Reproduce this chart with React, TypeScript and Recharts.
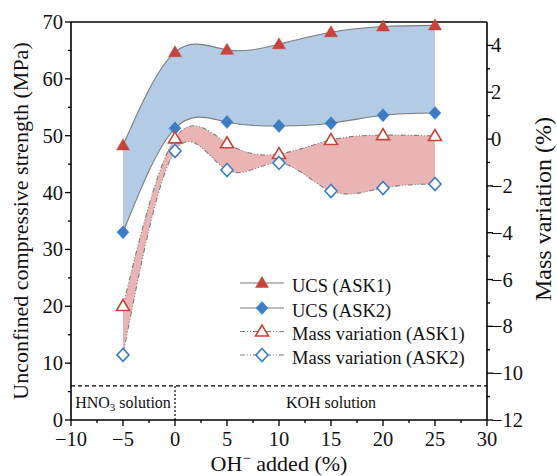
import {
  Area,
  ComposedChart,
  Label,
  Legend,
  Line,
  ReferenceArea,
  ReferenceLine,
  XAxis,
  YAxis,
} from 'recharts';

const FONT = '"Liberation Serif", "Times New Roman", serif';

// OH- added (%)
const ohAdded = [-5, 0, 5, 10, 15, 20, 25];
// unconfined compressive strength (MPa)
const ucsAsk1 = [48.3, 64.7, 65.1, 66.1, 68.2, 69.2, 69.4];
const ucsAsk2 = [33.0, 51.3, 52.4, 51.7, 52.2, 53.6, 54.0];
// mass variation (%)
const massAsk1 = [-7.13, 0.03, -0.18, -0.64, -0.04, 0.17, 0.13];
const massAsk2 = [-9.22, -0.51, -1.32, -1.02, -2.22, -2.09, -1.92];

const xTicks = [-10, -7.5, -5, -2.5, 0, 2.5, 5, 7.5, 10, 12.5, 15, 17.5, 20, 22.5, 25, 27.5, 30];
const ucsTicks = [0, 5, 10, 15, 20, 25, 30, 35, 40, 45, 50, 55, 60, 65, 70];
const massTicks = [-12, -11, -10, -9, -8, -7, -6, -5, -4, -3, -2, -1, 0, 1, 2, 3, 4];

const legendItems = [
  { name: 'UCS (ASK1)', marker: 'triangle', filled: true, color: '#c8433b', dashed: false },
  { name: 'UCS (ASK2)', marker: 'diamond', filled: true, color: '#3b7cc2', dashed: false },
  { name: 'Mass variation (ASK1)', marker: 'triangle', filled: false, color: '#c8433b', dashed: true },
  { name: 'Mass variation (ASK2)', marker: 'diamond', filled: false, color: '#3b7cc2', dashed: true },
];

const chartData = ohAdded.map((x, i) => ({
  x,
  ucs1: ucsAsk1[i],
  ucs2: ucsAsk2[i],
  ucsBand: [ucsAsk2[i], ucsAsk1[i]],
  mass1: massAsk1[i],
  mass2: massAsk2[i],
  massBand: [massAsk2[i], massAsk1[i]],
}));

const RED = '#c8433b';
const BLUE = '#3b7cc2';
const LINE_GRAY = '#7d7d7d';
const DASH_DOT = '5 2 1 2 1 2';

const fmt = (v: number) => (v < 0 ? `\u2212${Math.abs(v)}` : `${v}`);

function Marker({ cx, cy, kind, filled, color }: any) {
  if (cx == null || cy == null) return null;
  if (kind === 'triangle') {
    const pts = `${cx},${cy - 6.5} ${cx - 6.5},${cy + 4.5} ${cx + 6.5},${cy + 4.5}`;
    return (
      <polygon
        points={pts}
        fill={filled ? color : '#fff'}
        stroke={color}
        strokeWidth={filled ? 0.5 : 1.6}
      />
    );
  }
  const pts = `${cx},${cy - 6.5} ${cx + 6},${cy} ${cx},${cy + 6.5} ${cx - 6},${cy}`;
  return (
    <polygon
      points={pts}
      fill={filled ? color : '#fff'}
      stroke={color}
      strokeWidth={filled ? 0.5 : 1.6}
    />
  );
}

function XTick({ x, y, payload }: any) {
  const v = payload.value;
  const major = v % 5 === 0;
  return (
    <g>
      <line x1={x} x2={x} y1={y} y2={y + (major ? 6 : 3)} stroke="#000" strokeWidth={1.3} />
      {major && (
        <text x={x} y={y + 26} textAnchor="middle" fontSize={20.5} fontFamily={FONT} fill="#111">
          {fmt(v)}
        </text>
      )}
    </g>
  );
}

function LeftTick({ x, y, payload }: any) {
  const v = payload.value;
  const major = v % 10 === 0;
  return (
    <g>
      <line x1={x} x2={x - (major ? 6 : 3)} y1={y} y2={y} stroke="#000" strokeWidth={1.3} />
      {major && (
        <text x={x - 8} y={y + 7} textAnchor="end" fontSize={20.5} fontFamily={FONT} fill="#111">
          {fmt(v)}
        </text>
      )}
    </g>
  );
}

function RightTick({ x, y, payload }: any) {
  const v = payload.value;
  const major = v % 2 === 0;
  return (
    <g>
      <line x1={x} x2={x + (major ? 6 : 3)} y1={y} y2={y} stroke="#000" strokeWidth={1.3} />
      {major && (
        <text x={x + 4} y={y + 7} textAnchor="start" fontSize={20.5} fontFamily={FONT} fill="#111">
          {fmt(v)}
        </text>
      )}
    </g>
  );
}

function XTitle({ viewBox }: any) {
  const cx = viewBox.x + viewBox.width / 2;
  return (
    <text x={cx} y={471} textAnchor="middle" fontSize={22} fontFamily={FONT} fill="#111">
      OH
      <tspan fontSize={15} dy={-8}>{'\u2212'}</tspan>
      <tspan dy={8}> added (%)</tspan>
    </text>
  );
}

function LeftTitle() {
  return (
    <text
      x={28}
      y={221}
      transform="rotate(-90, 28, 221)"
      textAnchor="middle"
      fontSize={22}
      fontFamily={FONT}
      fill="#111"
    >
      Unconfined compressive strength (MPa)
    </text>
  );
}

function RightTitle() {
  return (
    <text
      x={551}
      y={209}
      transform="rotate(-90, 551, 209)"
      textAnchor="middle"
      fontSize={24}
      fontFamily={FONT}
      fill="#111"
    >
      Mass variation (%)
    </text>
  );
}

function NoteLabel({ viewBox, kind }: any) {
  const cx = viewBox.x + viewBox.width / 2;
  const cy = viewBox.y + viewBox.height / 2 + 5;
  if (kind === 'hno3') {
    return (
      <text x={cx} y={cy} textAnchor="middle" fontSize={16} fontFamily={FONT} fill="#111">
        HNO
        <tspan fontSize={11} dy={3}>3</tspan>
        <tspan dy={-3}> solution</tspan>
      </text>
    );
  }
  return (
    <text x={cx} y={cy} textAnchor="middle" fontSize={16} fontFamily={FONT} fill="#111">
      KOH solution
    </text>
  );
}

function LegendBox() {
  const rows = [13, 38, 61.5, 85];
  return (
    <svg width={260} height={100} style={{ display: 'block', overflow: 'visible' }}>
      {legendItems.map((item, i) => (
        <g key={item.name}>
          <line
            x1={5}
            x2={49}
            y1={rows[i]}
            y2={rows[i]}
            stroke={LINE_GRAY}
            strokeWidth={1.2}
            strokeDasharray={item.dashed ? DASH_DOT : undefined}
          />
          <Marker cx={27} cy={rows[i]} kind={item.marker} filled={item.filled} color={item.color} />
          <text x={57} y={rows[i] + 8.5} fontSize={18.5} fontFamily={FONT} fill="#111">
            {item.name}
          </text>
        </g>
      ))}
    </svg>
  );
}

export default function App() {
  return (
    <div style={{ position: 'absolute', left: 0, top: 0, background: '#fff' }}>
      <ComposedChart
        width={557}
        height={476}
        data={chartData}
        margin={{ top: 22, right: 0, bottom: 0, left: 0 }}
      >
        <XAxis
          dataKey="x"
          type="number"
          domain={[-10, 30]}
          ticks={xTicks}
          interval={0}
          height={56}
          tickSize={0}
          tickMargin={0}
          tickLine={false}
          tick={<XTick />}
          axisLine={{ stroke: '#000', strokeWidth: 1.6 }}
        >
          <Label content={<XTitle />} />
        </XAxis>
        <YAxis
          yAxisId="ucs"
          orientation="left"
          type="number"
          domain={[0, 70]}
          ticks={ucsTicks}
          interval={0}
          width={71}
          tickSize={0}
          tickMargin={0}
          tickLine={false}
          tick={<LeftTick />}
          axisLine={{ stroke: '#000', strokeWidth: 1.6 }}
        >
          <Label content={<LeftTitle />} />
        </YAxis>
        <YAxis
          yAxisId="mass"
          orientation="right"
          type="number"
          domain={[-12, 5]}
          ticks={massTicks}
          interval={0}
          width={70}
          tickSize={0}
          tickMargin={0}
          tickLine={false}
          tick={<RightTick />}
          axisLine={{ stroke: '#000', strokeWidth: 1.6 }}
        >
          <Label content={<RightTitle />} />
        </YAxis>

        <Area
          yAxisId="ucs"
          dataKey="ucsBand"
          type="natural"
          fill="#b3cbe4"
          fillOpacity={1}
          stroke="none"
          isAnimationActive={false}
          activeDot={false}
        />
        <Area
          yAxisId="mass"
          dataKey="massBand"
          type="natural"
          fill="#ebb4b4"
          fillOpacity={1}
          stroke="none"
          isAnimationActive={false}
          activeDot={false}
        />

        <ReferenceLine yAxisId="ucs" y={70} stroke="#000" strokeWidth={1.6} />
        <ReferenceLine yAxisId="ucs" y={6} stroke="#000" strokeWidth={1.2} strokeDasharray="4 3" />
        <ReferenceLine
          yAxisId="ucs"
          segment={[{ x: 0, y: 0 }, { x: 0, y: 6 }]}
          stroke="#000"
          strokeWidth={1.2}
          strokeDasharray="2 2"
        />
        <ReferenceArea
          yAxisId="ucs"
          x1={-10}
          x2={0}
          y1={0}
          y2={6}
          fill="none"
          stroke="none"
          label={<NoteLabel kind="hno3" />}
        />
        <ReferenceArea
          yAxisId="ucs"
          x1={0}
          x2={30}
          y1={0}
          y2={6}
          fill="none"
          stroke="none"
          label={<NoteLabel kind="koh" />}
        />

        <Line
          yAxisId="ucs"
          dataKey="ucs1"
          type="natural"
          stroke={LINE_GRAY}
          strokeWidth={1.1}
          isAnimationActive={false}
          activeDot={false}
          dot={(p: any) => <Marker key={`u1-${p.index}`} cx={p.cx} cy={p.cy} kind="triangle" filled color={RED} />}
        />
        <Line
          yAxisId="ucs"
          dataKey="ucs2"
          type="natural"
          stroke={LINE_GRAY}
          strokeWidth={1.1}
          isAnimationActive={false}
          activeDot={false}
          dot={(p: any) => <Marker key={`u2-${p.index}`} cx={p.cx} cy={p.cy} kind="diamond" filled color={BLUE} />}
        />
        <Line
          yAxisId="mass"
          dataKey="mass1"
          type="natural"
          stroke={LINE_GRAY}
          strokeWidth={1.1}
          strokeDasharray={DASH_DOT}
          isAnimationActive={false}
          activeDot={false}
          dot={(p: any) => <Marker key={`m1-${p.index}`} cx={p.cx} cy={p.cy} kind="triangle" filled={false} color={RED} />}
        />
        <Line
          yAxisId="mass"
          dataKey="mass2"
          type="natural"
          stroke={LINE_GRAY}
          strokeWidth={1.1}
          strokeDasharray={DASH_DOT}
          isAnimationActive={false}
          activeDot={false}
          dot={(p: any) => <Marker key={`m2-${p.index}`} cx={p.cx} cy={p.cy} kind="diamond" filled={false} color={BLUE} />}
        />

        <Legend
          layout="horizontal"
          verticalAlign="middle"
          align="center"
          content={<LegendBox />}
          wrapperStyle={{ left: 235, top: 270, width: 260, height: 100 }}
        />
      </ComposedChart>
    </div>
  );
}
